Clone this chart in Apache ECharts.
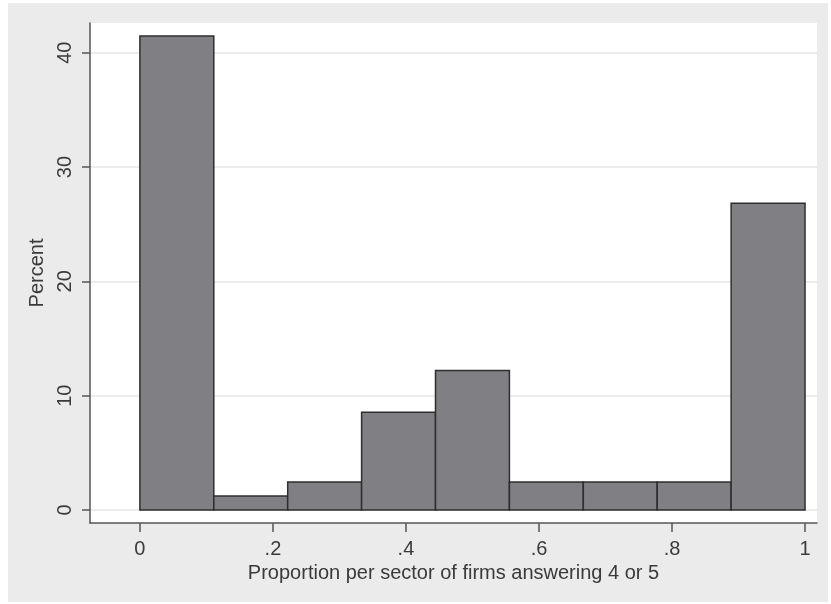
<!DOCTYPE html>
<html>
<head>
<meta charset="utf-8">
<script src="https://cdn.jsdelivr.net/npm/echarts@6/dist/echarts.min.js"></script>
<style>
  html, body { margin: 0; padding: 0; background: #fff; }
  #chart { width: 831px; height: 604px; }
</style>
</head>
<body>
<div id="chart"></div>
<script>
// histogram bins (9 equal bins over 0..1) and percent per bin
const binStarts = [0, 1 / 9, 2 / 9, 3 / 9, 4 / 9, 5 / 9, 6 / 9, 7 / 9, 8 / 9];
const binEnds = [1 / 9, 2 / 9, 3 / 9, 4 / 9, 5 / 9, 6 / 9, 7 / 9, 8 / 9, 1];
const percents = [41.46, 1.22, 2.44, 8.54, 12.2, 2.44, 2.44, 2.44, 26.83];

const xTicks = [0, 0.2, 0.4, 0.6, 0.8, 1];
const xTickLabels = ['0', '.2', '.4', '.6', '.8', '1'];
const yTicks = [0, 10, 20, 30, 40];

const chart = echarts.init(document.getElementById('chart'));

const data = binStarts.map((s, i) => [s, binEnds[i], percents[i]]);

const txt = '#3a3a3a';
const font = 'Liberation Sans';

const option = {
  backgroundColor: '#fff',
  animation: false,
  graphic: [
    {
      type: 'rect',
      z: -10,
      shape: { x: 8, y: 3, width: 820, height: 599 },
      style: { fill: '#ebebeb' },
      silent: true,
    },
    {
      type: 'rect',
      z: -9,
      shape: { x: 90, y: 23, width: 727, height: 500 },
      style: { fill: '#fff' },
      silent: true,
    },
  ],
  grid: {
    left: 90,
    right: 14,
    top: 23,
    bottom: 81,
    containLabel: false,
  },
  xAxis: {
    type: 'value',
    min: -0.075,
    max: 1.018,
    name: 'Proportion per sector of firms answering 4 or 5',
    nameLocation: 'middle',
    nameGap: 35,
    nameTextStyle: { color: txt, fontSize: 20, fontFamily: font },
    axisLine: { show: true, onZero: false, lineStyle: { color: '#555', width: 1.5 } },
    axisTick: { show: true, length: 9, customValues: xTicks, lineStyle: { color: '#555', width: 1.5 } },
    axisLabel: {
      customValues: xTicks,
      formatter: (v) => xTickLabels[xTicks.findIndex((t) => Math.abs(t - v) < 1e-9)],
      color: txt,
      fontSize: 20,
      fontFamily: font,
      margin: 16,
    },
    splitLine: { show: false },
  },
  yAxis: {
    type: 'value',
    min: -1.14,
    max: 42.6,
    name: 'Percent',
    nameLocation: 'middle',
    nameGap: 40,
    nameRotate: 90,
    nameTextStyle: { color: txt, fontSize: 20, fontFamily: font },
    axisLine: { show: true, onZero: false, lineStyle: { color: '#555', width: 1.5 } },
    axisTick: { show: true, length: 8, customValues: yTicks, lineStyle: { color: '#555', width: 1.5 } },
    axisLabel: {
      customValues: yTicks,
      rotate: 90,
      color: txt,
      fontSize: 20,
      fontFamily: font,
      margin: 15,
    },
    splitLine: { show: true, lineStyle: { color: '#e6e6e6', width: 1.5 } },
  },
  series: [
    {
      type: 'custom',
      data: data,
      encode: { x: [0, 1], y: 2 },
      renderItem: function (params, api) {
        const p0 = api.coord([api.value(0), 0]);
        const p1 = api.coord([api.value(1), api.value(2)]);
        return {
          type: 'rect',
          shape: { x: p0[0], y: p1[1], width: p1[0] - p0[0], height: p0[1] - p1[1] },
          style: { fill: '#808084', stroke: '#2e2e2e', lineWidth: 1.5 },
        };
      },
    },
  ],
};

chart.setOption(option);
</script>
</body>
</html>
